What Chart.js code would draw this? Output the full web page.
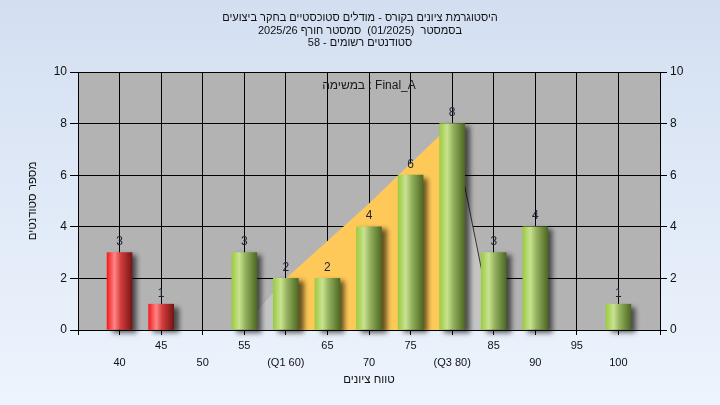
<!DOCTYPE html>
<html><head><meta charset="utf-8">
<script src="https://cdn.jsdelivr.net/npm/chart.js@4"></script>
<style>html,body{margin:0;padding:0;background:#e2ebf8;overflow:hidden}</style>
</head><body>
<canvas id="c" width="720" height="405" dir="rtl"></canvas>
<script>
// ---- data ----
const titleLines = ['היסטוגרמת ציונים בקורס - מודלים סטוכסטיים בחקר ביצועים', 'בסמסטר  (01/2025)  סמסטר חורף 2025/26', 'סטודנטים רשומים - 58'];
const innerLabel = 'Final_A : במשימה';
const xTitle = 'טווח ציונים';
const yTitle = 'מספר סטודנטים';
const categories = [40, 45, 50, 55, 60, 65, 70, 75, 80, 85, 90, 95, 100];
const tickLabels = ['40', '45', '50', '55', '(Q1 60)', '65', '70', '75', '(Q3 80)', '85', '90', '95', '100'];
const counts = [3, 1, 0, 3, 2, 2, 4, 6, 8, 3, 4, 0, 1];
const failGrades = [40, 45];
const lowTailX = [54.5, 60];
const lowTailY = [0, 2];
const iqrX = [60, 70, 80];
const iqrY = [2, 4.9, 8];
const highTailX = [80, 85];
const highTailY = [8, 0];

const FONT = "'Liberation Sans', 'DejaVu Sans', Arial, sans-serif";
Chart.defaults.font.family = FONT;

function barGradient(ctx) {
  const chart = ctx.chart;
  const i = ctx.dataIndex;
  if (i !== undefined && !counts[i]) return 'rgba(0,0,0,0)';
  const fail = failGrades.includes(categories[i]);
  if (!chart.chartArea || i === undefined) return fail ? '#e03030' : '#8fb050';
  const cx = chart.scales.x.getPixelForValue(categories[i]);
  const g = chart.ctx.createLinearGradient(cx - 12.5, 0, cx + 12.5, 0);
  if (fail) {
    g.addColorStop(0, '#f41c1c'); g.addColorStop(0.3, '#ff8585');
    g.addColorStop(0.55, '#d43c3c'); g.addColorStop(1, '#761616');
  } else {
    g.addColorStop(0, '#9ccb42'); g.addColorStop(0.3, '#c9e290');
    g.addColorStop(0.55, '#93b05e'); g.addColorStop(1, '#4e6922');
  }
  return g;
}

const bgPlugin = {
  id: 'bg',
  beforeDraw(chart) {
    const {ctx, chartArea: a, width, height} = chart;
    ctx.save();
    const g = ctx.createLinearGradient(0, 0, 0, height);
    g.addColorStop(0, '#d3dff1'); g.addColorStop(1, '#edf4fd');
    ctx.fillStyle = g; ctx.fillRect(0, 0, width, height);
    ctx.fillStyle = '#b3b3b3';
    ctx.fillRect(a.left, a.top, a.right - a.left, a.bottom - a.top);
    ctx.restore();
  },
  beforeDatasetsDraw(chart) {
    const {ctx, chartArea: a} = chart;
    ctx.save();
    ctx.font = '12px ' + FONT;
    ctx.fillStyle = '#1a1a1a';
    ctx.textAlign = 'center'; ctx.textBaseline = 'middle';
    ctx.fillText(innerLabel, (a.left + a.right) / 2, a.top + 14);
    ctx.restore();
  }
};

const shadowPlugin = {
  id: 'shadow',
  beforeDatasetDraw(chart, args) {
    if (args.index !== 0) return;
    const ctx = chart.ctx;
    ctx.save();
    ctx.shadowColor = 'rgba(0,0,0,0.6)';
    ctx.shadowBlur = 5; ctx.shadowOffsetX = 5; ctx.shadowOffsetY = 3;
  },
  afterDatasetDraw(chart, args) {
    if (args.index !== 0) return;
    chart.ctx.restore();
  },
  afterDatasetsDraw(chart) {
    const ctx = chart.ctx;
    const meta = chart.getDatasetMeta(0);
    ctx.save();
    ctx.font = '12px ' + FONT;
    ctx.fillStyle = '#1a2236';
    ctx.textAlign = 'center'; ctx.textBaseline = 'middle';
    meta.data.forEach((el, i) => {
      if (counts[i] > 0) ctx.fillText(String(counts[i]), el.x, el.y - 11);
    });
    ctx.restore();
  }
};

const pts = (xs, ys) => xs.map((x, i) => ({x, y: ys[i]}));

new Chart(document.getElementById('c'), {
  type: 'bar',
  data: {
    datasets: [
      {
        type: 'bar', data: pts(categories, counts), order: 0,
        backgroundColor: barGradient, borderWidth: 0, barThickness: 25, clip: false
      },
      {
        type: 'line', data: pts(lowTailX, lowTailY), order: 1, fill: 'origin',
        backgroundColor: '#c4c4c4', borderWidth: 0, pointRadius: 0, tension: 0
      },
      {
        type: 'line', data: pts(iqrX, iqrY), order: 1, fill: 'origin',
        backgroundColor: '#fec958', borderWidth: 0, pointRadius: 0, tension: 0
      },
      {
        type: 'line', data: pts(highTailX, highTailY), order: 1, fill: 'origin',
        backgroundColor: '#c4c4c4', borderColor: '#333333', borderWidth: 1, pointRadius: 0, tension: 0
      }
    ]
  },
  options: {
    responsive: false, animation: false,
    layout: {padding: 0},
    plugins: {
      legend: {display: false}, tooltip: {enabled: false},
      title: {
        display: true, text: titleLines, color: '#111',
        font: {size: 11, weight: 'normal', lineHeight: 12.5 / 11},
        padding: {top: 12, bottom: 22.5}
      }
    },
    scales: {
      x: {
        type: 'linear', min: 35, max: 105, offset: false,
        grid: {offset: false, color: '#000', lineWidth: 1, tickLength: 5},
        border: {display: true, color: '#000'},
        ticks: {
          stepSize: 5, autoSkip: false, maxRotation: 0, padding: 2, color: '#111',
          font: {size: 11, lineHeight: 17 / 11},
          callback(v) {
            const i = categories.indexOf(v);
            if (i < 0) return '';
            return i % 2 === 0 ? ['', tickLabels[i]] : [tickLabels[i], ''];
          }
        },
        title: {display: true, text: xTitle, color: '#111', font: {size: 11.5}, padding: {top: 0, bottom: 18}},
        afterFit(s) { s.height = 75; }
      },
      y: {
        type: 'linear', position: 'left', min: 0, max: 10,
        grid: {color: '#000', lineWidth: 1, tickLength: 8},
        border: {display: true, color: '#000'},
        ticks: {stepSize: 2, padding: 3, color: '#111', font: {size: 12}},
        title: {display: true, text: yTitle, color: '#111', font: {size: 11.5}, padding: {top: 26, bottom: 0}},
        afterFit(s) { s.width = 78; }
      },
      y2: {
        type: 'linear', position: 'right', min: 0, max: 10, display: true,
        grid: {drawOnChartArea: false, color: '#000', tickLength: 7},
        border: {display: true, color: '#000'},
        ticks: {stepSize: 2, padding: 3, color: '#111', font: {size: 12}},
        afterFit(s) { s.width = 60; }
      }
    }
  },
  plugins: [bgPlugin, shadowPlugin]
});
</script>
</body></html>
